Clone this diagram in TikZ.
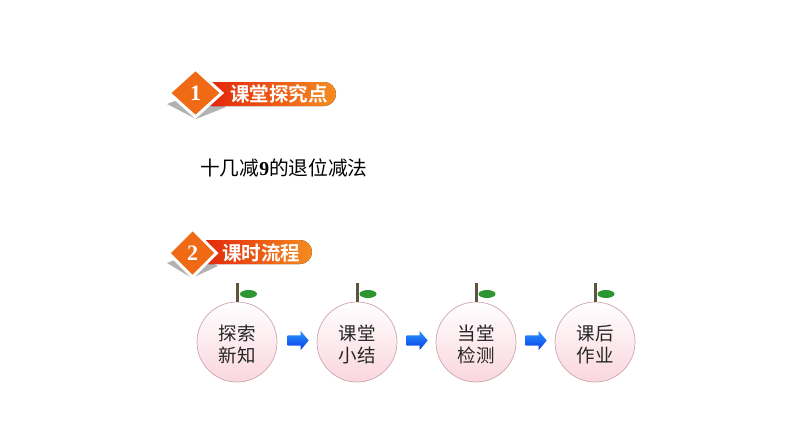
\documentclass[tikz,border=0pt]{standalone}
\usepackage{fontspec}
\setmainfont{Liberation Serif}
\newfontfamily\cjk{Noto Sans CJK SC}
\newfontfamily\cjkb{Noto Sans CJK SC Bold}
\usetikzlibrary{shapes.geometric,shapes.arrows}
\definecolor{badgeorange}{RGB}{240,105,20}
\definecolor{pillred}{RGB}{226,30,10}
\definecolor{pillmid}{RGB}{235,70,15}
\definecolor{pillorange}{RGB}{245,140,30}
\definecolor{peachpink}{RGB}{250,214,222}
\definecolor{peachline}{RGB}{205,165,175}
\definecolor{stembrown}{RGB}{95,85,60}
\definecolor{leafgreen}{RGB}{45,150,50}
\definecolor{arrowlight}{RGB}{40,150,255}
\definecolor{arrowdark}{RGB}{10,60,230}
\newcommand{\peachlines}[2]{\rule{0pt}{21pt}#1\\#2}
\tikzset{
  peach/.style={circle, draw=peachline, line width=0.7pt, minimum size=80pt, inner sep=0pt,
    top color=white, bottom color=peachpink, align=center, text=black!85,
    font=\cjk\fontsize{18.5}{22}\selectfont},
  flowarrow/.style={single arrow, minimum width=19pt, minimum height=21pt,
    inner xsep=0pt, inner ysep=5pt, outer sep=0pt,
    single arrow head extend=4.5pt, single arrow tip angle=100,
    top color=arrowlight, bottom color=arrowdark},
  badge/.style={diamond, draw=white, line width=3pt, inner sep=0pt, fill=badgeorange,
    text=white, font=\bfseries\fontsize{22}{22}\selectfont},
  pill/.style={rounded corners=12pt, left color=pillred, middle color=pillmid, right color=pillorange},
  pilltext/.style={text=white, font=\cjkb\fontsize{19.5}{20}\selectfont, inner sep=0pt, anchor=west}
}
\begin{document}
\begin{tikzpicture}[x=1pt,y=-1pt]
  \useasboundingbox (0,0) rectangle (794,447);

  % first heading
  \fill[black!30] (167,104) -- (196,119) -- (226,107) -- (196,93) -- cycle;
  \fill[pill] (200,82) rectangle (336,106);
  \node[badge, minimum width=54pt, minimum height=49pt] (badge1) at (195.5,93) {1};
  \node[pilltext] (title1) at (230,94) {课堂探究点};

  % topic line
  \node[font=\cjk\fontsize{19.7}{20}\selectfont, inner sep=0pt, anchor=west] (topic) at (200,168)
    {十几减{\rmfamily\bfseries 9}的退位减法};

  % second heading
  \fill[black!30] (167,263) -- (192,278) -- (218,266) -- (192,253) -- cycle;
  \fill[pill] (195,240) rectangle (312,264);
  \node[badge, minimum width=49pt, minimum height=49pt] (badge2) at (192.5,253) {2};
  \node[pilltext] (title2) at (222,253) {课时流程};

  % the four peaches
  \node[peach] (peach1) at (237,342) {\peachlines{探索}{新知}};
  \node[peach] (peach2) at (357,342) {\peachlines{课堂}{小结}};
  \node[peach] (peach3) at (476,342) {\peachlines{当堂}{检测}};
  \node[peach] (peach4) at (595,342) {\peachlines{课后}{作业}};

  % stems and leaves
  \foreach \x in {237.5,357,476,595} {
    \fill[stembrown] (\x-1.5,283) rectangle (\x+1.5,302);
    \fill[leafgreen] (\x+11,294) ellipse (8.5 and 4);
  }

  % arrows between peaches
  \node[flowarrow] (arrow1) at (296,340.5) {};
  \node[flowarrow] (arrow2) at (415,340.5) {};
  \node[flowarrow] (arrow3) at (534,340.5) {};
\end{tikzpicture}
\end{document}
